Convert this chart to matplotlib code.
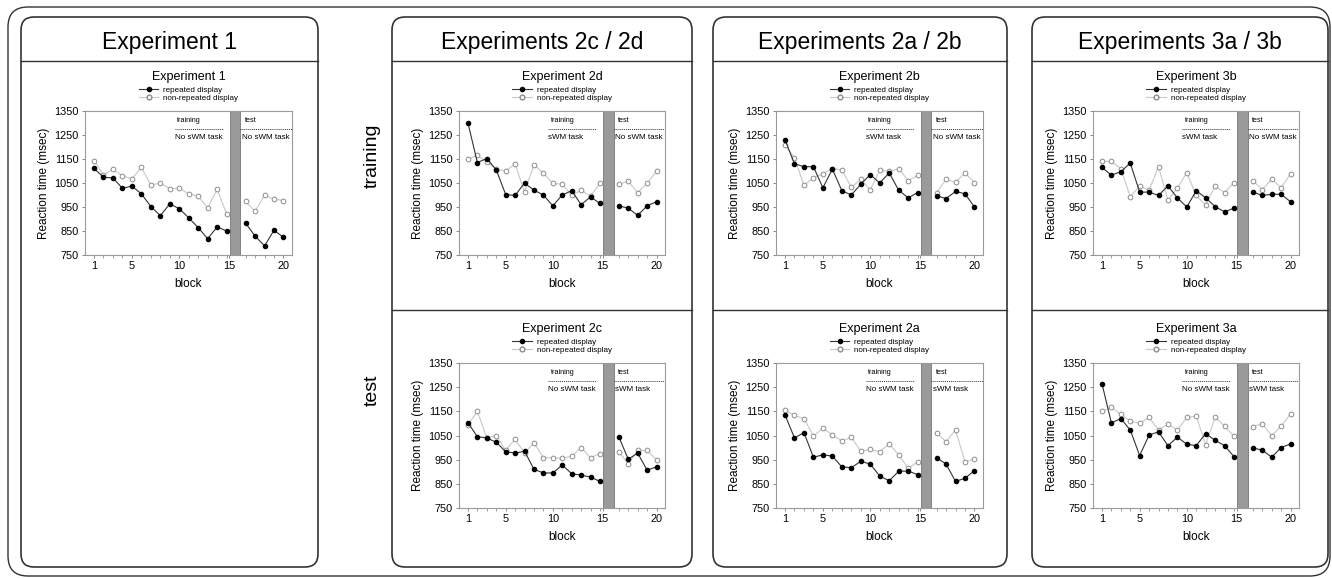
import matplotlib
matplotlib.use("Agg")
import matplotlib.pyplot as plt
from matplotlib.patches import FancyBboxPatch
from matplotlib.lines import Line2D

plt.rcParams['font.family'] = ['Liberation Sans', 'DejaVu Sans']

W, H = 1332, 578

# blocks 1-15 = training, 16-20 = test
blocks = list(range(1, 21))
tick_blocks = [1, 5, 10, 15, 20]
yticks = [750, 850, 950, 1050, 1150, 1250, 1350]

exp1_rep = [1111, 1074, 1071, 1028, 1037, 1005, 952, 914, 963, 943, 905, 864, 818, 867, 850,
            883, 829, 788, 853, 824]
exp1_non = [1143, 1084, 1107, 1080, 1067, 1115, 1042, 1049, 1026, 1028, 1005, 995, 947, 1023, 922,
            973, 932, 999, 983, 977]

exp2d_rep = [1300, 1135, 1152, 1105, 1002, 998, 1050, 1020, 1000, 955, 1000, 1018, 960, 992, 965,
             955, 945, 915, 955, 972]
exp2d_non = [1150, 1165, 1138, 1108, 1100, 1130, 1012, 1125, 1092, 1048, 1045, 998, 1020, 995, 1048,
             1045, 1057, 1010, 1048, 1100]

exp2c_rep = [1103, 1045, 1040, 1022, 983, 977, 985, 910, 895, 895, 928, 892, 886, 878, 860,
             1045, 952, 977, 907, 920]
exp2c_non = [1095, 1150, 1040, 1050, 988, 1035, 978, 1020, 958, 958, 955, 965, 1000, 958, 975,
             982, 933, 988, 988, 950]

exp2b_rep = [1230, 1130, 1118, 1118, 1030, 1108, 1018, 1000, 1045, 1085, 1050, 1092, 1020, 988, 1010,
             997, 985, 1015, 1005, 950]
exp2b_non = [1208, 1155, 1040, 1072, 1088, 1110, 1105, 1032, 1065, 1022, 1103, 1098, 1110, 1060, 1082,
             1010, 1065, 1053, 1092, 1052]

exp2a_rep = [1135, 1040, 1062, 960, 970, 965, 920, 917, 943, 932, 882, 863, 902, 903, 888,
             958, 932, 860, 873, 905]
exp2a_non = [1155, 1133, 1120, 1048, 1080, 1053, 1027, 1042, 985, 993, 983, 1015, 970, 915, 940,
             1060, 1025, 1072, 942, 952]

exp3b_rep = [1115, 1083, 1097, 1133, 1012, 1012, 998, 1038, 988, 950, 1018, 988, 952, 930, 945,
             1013, 998, 1003, 1003, 972]
exp3b_non = [1140, 1140, 1110, 993, 1037, 1020, 1118, 978, 1030, 1093, 998, 958, 1037, 1010, 1052,
             1060, 1022, 1067, 1030, 1088]

exp3a_rep = [1265, 1102, 1120, 1073, 967, 1052, 1065, 1008, 1043, 1014, 1008, 1058, 1030, 1008, 963,
             998, 990, 960, 1000, 1015]
exp3a_non = [1150, 1167, 1137, 1110, 1100, 1125, 1073, 1097, 1072, 1125, 1130, 1012, 1125, 1090, 1047,
             1087, 1098, 1050, 1088, 1140]

box_titles = ["Experiment 1", "Experiments 2c / 2d", "Experiments 2a / 2b", "Experiments 3a / 3b"]


def xpos(b):
    # leave one slot for the grey break bar between training and test
    return b if b <= 15 else b + 1


def px_rect(x0, y0, x1, y1):
    return [x0 / W, 1 - y1 / H, (x1 - x0) / W, (y1 - y0) / H]


def draw_panel(fig, bg, rect, title, rep, non, train_task, test_task):
    x0, y0, x1, y1 = rect
    ax = fig.add_axes(px_rect(*rect))
    tr = [xpos(b) for b in blocks[:15]]
    te = [xpos(b) for b in blocks[15:]]
    for xs, sl in ((tr, slice(0, 15)), (te, slice(15, 20))):
        ax.plot(xs, non[sl], color='#c8c8c8', lw=0.8, marker='o', ms=3.4,
                mfc='white', mec='#8c8c8c', mew=0.7, zorder=3)
        ax.plot(xs, rep[sl], color='#333333', lw=0.8, marker='o', ms=3.0,
                mfc='black', mec='black', zorder=4)
    ax.axvspan(15.35, 16.45, color='#9a9a9a', ec='#666666', lw=0.5, zorder=2)
    ax.set_xlim(0.05, 21.9)
    ax.set_ylim(750, 1350)
    ax.set_yticks(yticks)
    tpos = [xpos(b) for b in tick_blocks]
    tpos[3] = 15.3
    ax.set_xticks(tpos)
    ax.set_xticklabels([str(b) for b in tick_blocks])
    ax.set_xticks([xpos(b) for b in blocks], minor=True)
    ax.tick_params(axis='both', labelsize=7.8, length=2.5, width=0.6, color='#777777', pad=2)
    ax.tick_params(axis='x', which='minor', length=2, width=0.5, color='#777777')
    for s in ax.spines.values():
        s.set_color('#9a9a9a')
        s.set_linewidth(0.8)
    ax.set_ylabel("Reaction time (msec)", fontsize=8.5, labelpad=3)
    ax.set_xlabel("block", fontsize=8.5, labelpad=5)

    # phase annotations
    ax.text(9.8, 1312, "training", fontsize=5.2, va='center', ha='left')
    ax.plot([9.5, 14.6], [1275, 1275], color='#333333', lw=0.7, ls=(0, (1, 1)))
    ax.text(9.5, 1240, train_task, fontsize=5.8, va='center', ha='left')
    ax.text(16.9, 1312, "test", fontsize=5.2, va='center', ha='left')
    ax.plot([16.45, 21.9], [1275, 1275], color='#333333', lw=0.7, ls=(0, (1, 1)))
    ax.text(16.6, 1240, test_task, fontsize=5.8, va='center', ha='left')

    cx = (x0 + x1) / 2
    bg.text(cx, y0 - 34, title, fontsize=9, ha='center', va='center')
    handles = [Line2D([], [], color='#333333', lw=0.8, marker='o', ms=3, mfc='black', mec='black'),
               Line2D([], [], color='#c8c8c8', lw=0.8, marker='o', ms=3.4, mfc='white', mec='#8c8c8c')]
    ax.legend(handles, ["repeated display", "non-repeated display"], loc='upper center',
              bbox_to_anchor=(cx, y0 - 25), bbox_transform=bg.transData, frameon=False,
              fontsize=5.8, handlelength=2.4, handletextpad=0.6, labelspacing=0.1,
              borderpad=0, borderaxespad=0)
    return ax


fig = plt.figure(figsize=(W / 100, H / 100), dpi=100)
bg = fig.add_axes([0, 0, 1, 1])
bg.set_xlim(0, W)
bg.set_ylim(H, 0)
bg.axis('off')

# outer frame
bg.add_patch(FancyBboxPatch((8, 7), 1322, 569, boxstyle="round,pad=0,rounding_size=20",
                            fc='none', ec='#333333', lw=1.0))

boxes = [(21, 17, 318, 567), (392, 17, 692, 567), (713, 17, 1007, 567), (1032, 17, 1328, 567)]
for i, (bx0, by0, bx1, by1) in enumerate(boxes):
    bg.add_patch(FancyBboxPatch((bx0, by0), bx1 - bx0, by1 - by0,
                                boxstyle="round,pad=0,rounding_size=13",
                                fc='none', ec='#333333', lw=1.2))
    bg.plot([bx0, bx1], [61, 61], color='#333333', lw=1.0)
    if i > 0:
        bg.plot([bx0, bx1], [310, 310], color='#333333', lw=1.0)
    bg.text((bx0 + bx1) / 2, 42, box_titles[i], fontsize=16.5, ha='center', va='center')

bg.text(372, 156, "training", fontsize=14, rotation=90, ha='center', va='center')
bg.text(372, 390, "test", fontsize=14, rotation=90, ha='center', va='center')

draw_panel(fig, bg, (85, 111, 292, 255), "Experiment 1", exp1_rep, exp1_non, "No sWM task", "No sWM task")
draw_panel(fig, bg, (459, 111, 665, 255), "Experiment 2d", exp2d_rep, exp2d_non, "sWM task", "No sWM task")
draw_panel(fig, bg, (459, 363, 665, 508), "Experiment 2c", exp2c_rep, exp2c_non, "No sWM task", "sWM task")
draw_panel(fig, bg, (776, 111, 983, 255), "Experiment 2b", exp2b_rep, exp2b_non, "sWM task", "No sWM task")
draw_panel(fig, bg, (776, 363, 983, 508), "Experiment 2a", exp2a_rep, exp2a_non, "No sWM task", "sWM task")
draw_panel(fig, bg, (1093, 111, 1299, 255), "Experiment 3b", exp3b_rep, exp3b_non, "sWM task", "No sWM task")
draw_panel(fig, bg, (1093, 363, 1299, 508), "Experiment 3a", exp3a_rep, exp3a_non, "No sWM task", "sWM task")

fig.savefig("out.png", dpi=100)
